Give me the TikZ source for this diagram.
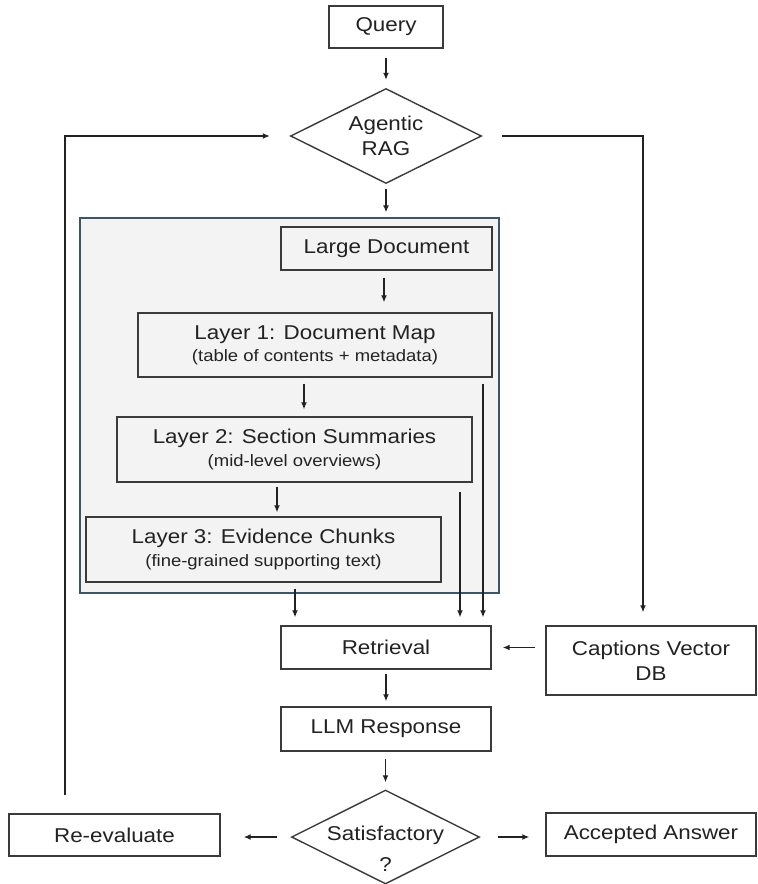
\documentclass[tikz,border=0pt]{standalone}
\usepackage{fontspec}
\setmainfont{Liberation Sans}[FakeStretch=1.12]
\usetikzlibrary{arrows.meta,calc}
\definecolor{ink}{HTML}{222222}
\definecolor{edgegray}{HTML}{3A3A3A}
\definecolor{panelfill}{HTML}{F3F3F3}
\definecolor{paneldraw}{HTML}{3D5566}
\newcommand\subline[1]{{\fontsize{16.5}{20}\selectfont #1}}
\begin{document}
\begin{tikzpicture}[x=1pt,y=-1pt,
  box/.style={draw=edgegray,line width=1.4pt,fill=white,text=ink,inner sep=0pt,align=center,font=\fontsize{20}{25}\selectfont},
  inbox/.style={box,fill=panelfill},
  ghost/.style={inner sep=0pt,text=ink,align=center,font=\fontsize{20}{25}\selectfont},
  arr/.style={draw=ink,line width=1.35pt,-{Latex[length=7pt,width=6pt]}},
  diamondline/.style={draw=edgegray,line width=1.4pt}]
\useasboundingbox (0,0) rectangle (758,884);

% panel
\node[draw=paneldraw,fill=panelfill,line width=1.3pt,minimum width=419pt,minimum height=375pt,inner sep=0pt] (panel) at (289.5,405.5) {};

% nodes
\node[box,minimum width=114pt,minimum height=42pt] (query) at (386,27) {Query};
\node[ghost,minimum width=190pt,minimum height=94pt] (rag) at (386,136) {Agentic\\RAG};
\draw[diamondline] (rag.west) -- (rag.north) -- (rag.east) -- (rag.south) -- cycle;

\node[inbox,minimum width=211pt,minimum height=43pt] (large) at (386.5,248.5) {Large Document};
\node[inbox,minimum width=354pt,minimum height=64pt] (l1) at (315,345) {Layer 1: Document Map\\[-3pt]\subline{(table of contents + metadata)}};
\node[inbox,minimum width=355pt,minimum height=65pt] (l2) at (294.5,449.5) {Layer 2: Section Summaries\\[-2pt]\subline{(mid-level overviews)}};
\node[inbox,minimum width=355pt,minimum height=65pt] (l3) at (263.5,549.5) {Layer 3: Evidence Chunks\\[-2pt]\subline{(fine-grained supporting text)}};

\node[box,minimum width=210pt,minimum height=43pt] (retr) at (386,647.5) {Retrieval};
\node[box,minimum width=210pt,minimum height=69pt] (capt) at (651,660.5) {Captions Vector\\DB};
\node[box,minimum width=210pt,minimum height=44pt] (llm) at (386,729) {LLM Response};

\node[ghost,minimum width=187pt,minimum height=93pt,label={[ghost,yshift=-12pt]center:Satisfactory\\[6pt]?}] (sat) at (385.5,837) {};
\draw[diamondline] (sat.west) -- (sat.north) -- (sat.east) -- (sat.south) -- cycle;

\node[box,minimum width=211pt,minimum height=42pt] (reeval) at (114.5,835) {Re-evaluate};
\node[box,minimum width=210pt,minimum height=43pt] (acc) at (651,834.5) {Accepted Answer};

% connectors
\draw[arr,shorten <=9pt,shorten >=9pt] (query.south) -- (rag.north);
\draw[arr,shorten <=6pt,shorten >=5pt] (rag.south) -- (rag.south |- panel.north);
\draw[arr,shorten <=7pt,shorten >=10pt] ([xshift=-2.5pt]large.south) -- ([xshift=-2.5pt]large.south |- l1.north);
\draw[arr,shorten <=6pt,shorten >=7pt] ([xshift=-11pt]l1.south) -- ([xshift=-11pt]l1.south |- l2.north);
\draw[arr,shorten <=4pt,shorten >=4pt] ([xshift=-17.5pt]l2.south) -- ([xshift=-17.5pt]l2.south |- l3.north);
\draw[arr,shorten <=6pt,shorten >=8pt] ([xshift=31.5pt]l3.south) -- ([xshift=31.5pt]l3.south |- retr.north);
\draw[arr,shorten <=9pt,shorten >=8pt] ([xshift=165.5pt]l2.south) -- ([xshift=165.5pt]l2.south |- retr.north);
\draw[arr,shorten <=6pt,shorten >=8pt] ([xshift=168pt]l1.south) -- ([xshift=168pt]l1.south |- retr.north);
\draw[arr,shorten <=10pt,shorten >=11pt] (capt.west |- retr.east) -- (retr.east);
\draw[arr,shorten <=21pt,shorten >=13pt] (rag.east) -| ([xshift=-8pt]capt.north);
\draw[arr,shorten <=4pt,shorten >=5pt] (retr.south) -- (llm.north);
\draw[arr,shorten <=7pt,shorten >=8pt] ([xshift=-0.5pt]llm.south) -- (sat.north);
\draw[arr,shorten <=15pt,shorten >=23pt] (sat.west) -- (reeval.east |- sat.west);
\draw[arr,shorten <=19pt,shorten >=16pt] (sat.east) -- (acc.west |- sat.east);
\draw[arr,shorten <=18pt,shorten >=21pt] ([xshift=-49.5pt]reeval.north) |- (rag.west);
\end{tikzpicture}
\end{document}
